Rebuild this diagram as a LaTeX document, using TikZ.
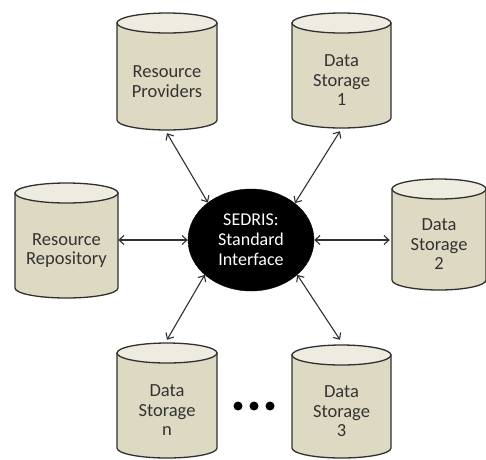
\documentclass[tikz,border=0pt]{standalone}
\usepackage{fontspec}
\setmainfont{Carlito}
\usetikzlibrary{arrows.meta,shapes.geometric}
\definecolor{bodyc}{HTML}{DDD9C3}
\definecolor{capc}{HTML}{EEECE1}
\definecolor{edgec}{HTML}{303030}
\tikzset{
  drumedge/.style={draw=edgec, line width=1.3pt},
  drumbox/.style={rectangle, draw=none, inner sep=0pt},
  drumlbl/.style={align=center, font=\fontsize{18.5}{19.5}\selectfont, text=black!80, inner sep=0pt},
  link/.style={draw=edgec, line width=1.1pt, {Straight Barb[length=5pt,width=9pt]}-{Straight Barb[length=5pt,width=9pt]}},
  hub/.style={ellipse, fill=black, draw=black, minimum width=126pt, minimum height=102pt, inner sep=0pt,
     align=center, text=white, font=\fontsize{18}{20}\selectfont},
  dot/.style={fill=black}
}
% #1 name, #2 cx, #3 top, #4 bottom, #5 x radius, #6 text
\newcommand\drum[6]{%
  \path[drumedge, fill=bodyc] ({#2-#5},{#3+10}) -- ({#2-#5},{#4-10})
     arc[start angle=180, end angle=0, x radius=#5, y radius=10] -- ({#2+#5},{#3+10}) -- cycle;
  \path[drumedge, fill=capc] (#2,{#3+10}) ellipse[x radius=#5, y radius=10];
  \node[drumbox, minimum width={2*#5*1pt}, minimum height={(#4-#3)*1pt}] (#1) at (#2,{(#3+#4)/2}) {};
  \node[drumlbl] (#1-t) at (#2,{(#3+20+#4)/2}) {#6};
}
\begin{document}
\begin{tikzpicture}[x=1pt, y=-1pt]
\useasboundingbox (0,0) rectangle (486,459);
\drum{rp}{167}{13}{130}{50}{Resource\\Providers}
\drum{ds1}{341.5}{13}{128}{49.5}{Data\\Storage\\1}
\drum{rr}{66.5}{183}{298}{51.5}{Resource\\Repository}
\drum{ds2}{439}{179}{290}{47}{Data\\Storage\\2}
\drum{dsn}{167}{343}{458}{50}{Data\\Storage\\n}
\drum{ds3}{341.5}{345}{458}{49.5}{Data\\Storage\\3}
\node[hub] (sedris) at (251,240) {SEDRIS:\\Standard\\Interface};
\draw[link] ([yshift=-3pt]rp.south) -- (sedris.139);
\draw[link] ([xshift=-1.5pt,yshift=-3pt]ds1.south) -- (sedris.40);
\draw[link] (sedris.180 -| rr.east) -- (sedris.180);
\draw[link] (sedris.0) -- ([xshift=-2pt]sedris.0 -| ds2.west);
\draw[link] (sedris.217) -- ([yshift=3pt]dsn.north);
\draw[link] (sedris.323) -- ([xshift=-1.5pt,yshift=5pt]ds3.north);
\fill[dot] (238,406) circle[radius=4.5];
\fill[dot] (254,406) circle[radius=4.5];
\fill[dot] (270,406) circle[radius=4.5];
\end{tikzpicture}
\end{document}
